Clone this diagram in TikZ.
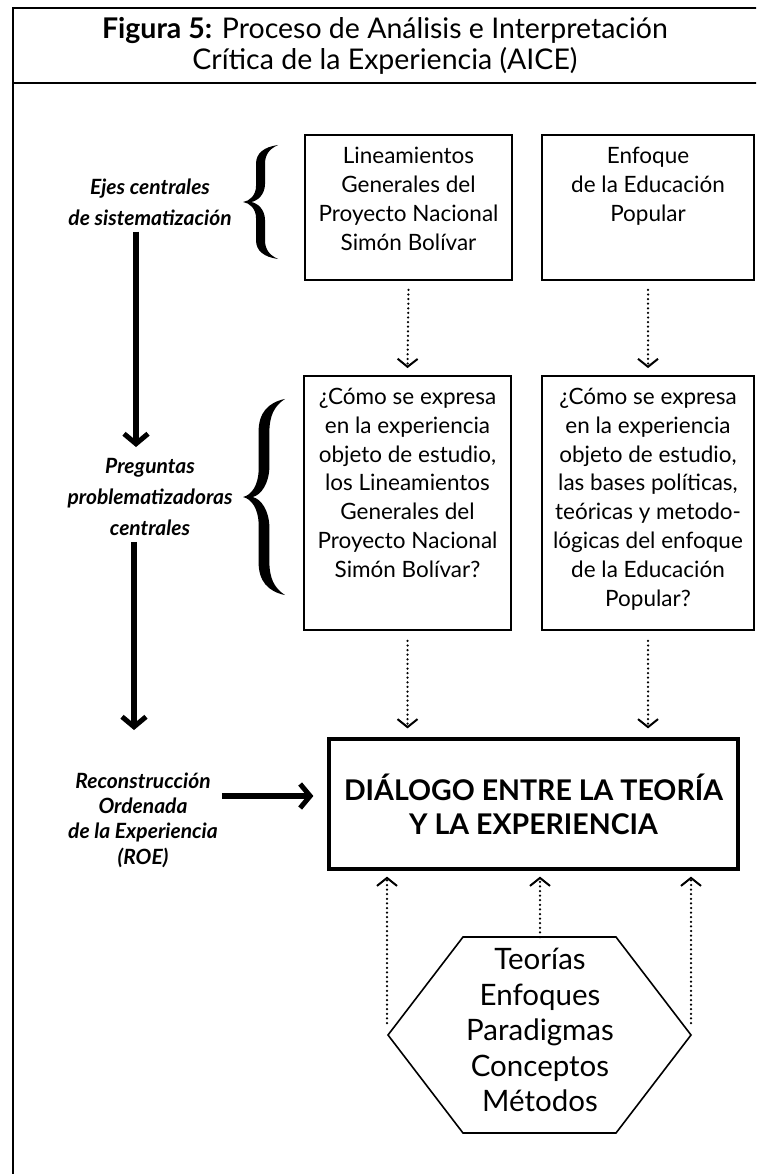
\documentclass[tikz,border=0pt]{standalone}
\usepackage{fontspec}
\setmainfont{Lato}
\usetikzlibrary{arrows.meta}
\begin{document}
\begin{tikzpicture}[x=1pt,y=-1pt,
  frame/.style={line width=2.4pt},
  box/.style={draw, line width=1.8pt, inner sep=0pt},
  bigbox/.style={draw, line width=3.2pt, inner sep=0pt},
  boxtxt/.style={align=center, inner sep=0pt, font=\fontsize{22.5}{28.8}\selectfont},
  lefttxt/.style={align=center, inner sep=0pt, font=\fontsize{21}{31}\selectfont\bfseries\itshape},
  dotarrow/.style={line width=2.5pt, dash pattern=on 0pt off 4.6pt, line cap=round,
     -{Straight Barb[length=8pt,width=20pt,line width=2pt]}},
  bigarrow/.style={line width=5.5pt, -{Straight Barb[length=10pt,width=24pt,line width=5pt]}},
  bracefill/.style={fill=black}
]
\useasboundingbox (0,0) rectangle (756,1174);
\begin{scope}
  \clip (0,0) rectangle (756,1174);
  \draw[frame] (13,8) rectangle (800,1250);
  \draw[frame] (13,83) -- (800,83);
\end{scope}

% title
\node[align=center, inner sep=0pt, font=\fontsize{28.5}{31}\selectfont] (title) at (385,46)
  {\textbf{Figura 5:} Proceso de Análisis e Interpretación\\Crítica de la Experiencia (AICE)};

% top boxes
\node[box, minimum width=207pt, minimum height=145pt] (A) at (408.5,207.5) {};
\node[boxtxt, anchor=north] (At) at (408.5,147) {Lineamientos\\Generales del\\Proyecto Nacional\\Simón Bolívar};
\node[box, minimum width=212pt, minimum height=145pt] (B) at (648,207.5) {};
\node[boxtxt, anchor=north] (Bt) at (648,147) {Enfoque\\de la Educación\\Popular};

% question boxes
\node[box, minimum width=207pt, minimum height=254pt] (C) at (407.5,503) {};
\node[boxtxt, anchor=north] (Ct) at (407.5,388) {¿Cómo se expresa\\en la experiencia\\objeto de estudio,\\los Lineamientos\\Generales del\\Proyecto Nacional\\Simón Bolívar?};
\node[box, minimum width=212pt, minimum height=254pt] (D) at (648,503) {};
\node[boxtxt, anchor=north] (Dt) at (648,388) {¿Cómo se expresa\\en la experiencia\\objeto de estudio,\\las bases políticas,\\teóricas y metodo-\\lógicas del enfoque\\de la Educación\\Popular?};

% dialogue box
\node[bigbox, minimum width=409pt, minimum height=130pt, align=center,
      font=\fontsize{28.5}{34}\selectfont\bfseries] (Dlg) at (533.5,804)
  {DIÁLOGO ENTRE LA TEORÍA\\Y LA EXPERIENCIA};

% hexagon
\coordinate (h1) at (463,937);
\coordinate (h2) at (616,937);
\coordinate (h3) at (691,1035);
\coordinate (h4) at (616,1133);
\coordinate (h5) at (463,1133);
\coordinate (h6) at (388,1035);
\draw[line width=1.6pt, line join=miter] (h1) -- (h2) -- (h3) -- (h4) -- (h5) -- (h6) -- cycle;
\node[align=center, inner sep=0pt, font=\fontsize{29.5}{35.5}\selectfont] (hex) at (540,1030)
  {Teorías\\Enfoques\\Paradigmas\\Conceptos\\Métodos};
\coordinate (hl) at (387,1023);
\coordinate (hm) at (540,937);
\coordinate (hr) at (691,1023);

% left labels
\node[lefttxt] (Ejes) at (150,202) {Ejes centrales\\de sistematización};
\node[lefttxt] (Preg) at (150,497) {Preguntas\\problematizadoras\\centrales};
\node[lefttxt, font=\fontsize{21}{25.3}\selectfont\bfseries\itshape] (ROE) at (143,820)
  {Reconstrucción\\Ordenada\\de la Experiencia\\(ROE)};

% braces
\begin{scope}[shift={(243,202)}]
\fill[bracefill] (35,57) .. controls (21,55) and (13,49) .. (13,38) -- (13,16) .. controls (13,7) and (7,1) .. (0,0)
  .. controls (7,-1) and (13,-7) .. (13,-16) -- (13,-38) .. controls (13,-49) and (21,-55) .. (35,-57)
  .. controls (26,-53) and (22,-47) .. (22,-38) -- (22,-18) .. controls (22,-8) and (15,-1) .. (8,0)
  .. controls (15,1) and (22,8) .. (22,18) -- (22,38) .. controls (22,47) and (26,53) .. (35,57) -- cycle;
\end{scope}
\begin{scope}[shift={(243,497)}, xscale=1.2, yscale=1.72]
\fill[bracefill] (35,57) .. controls (21,55) and (13,49) .. (13,38) -- (13,16) .. controls (13,7) and (7,1) .. (0,0)
  .. controls (7,-1) and (13,-7) .. (13,-16) -- (13,-38) .. controls (13,-49) and (21,-55) .. (35,-57)
  .. controls (26,-53) and (22,-47) .. (22,-38) -- (22,-18) .. controls (22,-8) and (15,-1) .. (8,0)
  .. controls (15,1) and (22,8) .. (22,18) -- (22,38) .. controls (22,47) and (26,53) .. (35,57) -- cycle;
\end{scope}

% dotted arrows
\draw[dotarrow] ([yshift=-9pt]A.south) -- ([yshift=7pt]C.north);
\draw[dotarrow] ([yshift=-9pt]B.south) -- ([yshift=7pt]D.north);
\draw[dotarrow] ([yshift=-10pt]C.south) -- ([yshift=9pt]C.south |- Dlg.north);
\draw[dotarrow] ([yshift=-10pt]D.south) -- ([yshift=9pt]D.south |- Dlg.north);
\draw[dotarrow] (hl) -- ([yshift=-6pt]hl |- Dlg.south);
\draw[dotarrow] (hm) -- ([yshift=-6pt]hm |- Dlg.south);
\draw[dotarrow] (hr) -- ([yshift=-6pt]hr |- Dlg.south);

% thick arrows
\draw[bigarrow] ([xshift=-14pt,yshift=-6pt]Ejes.south) -- ([xshift=-14pt]Ejes.south |- 0,447);
\draw[bigarrow] ([xshift=-16pt,yshift=-6pt]Preg.south) -- ([xshift=-16pt]Preg.south |- 0,730);
\draw[bigarrow] ([xshift=4pt,yshift=24pt]ROE.east) -- ([xshift=-14pt,yshift=24pt]ROE.east -| Dlg.west);
\end{tikzpicture}
\end{document}
